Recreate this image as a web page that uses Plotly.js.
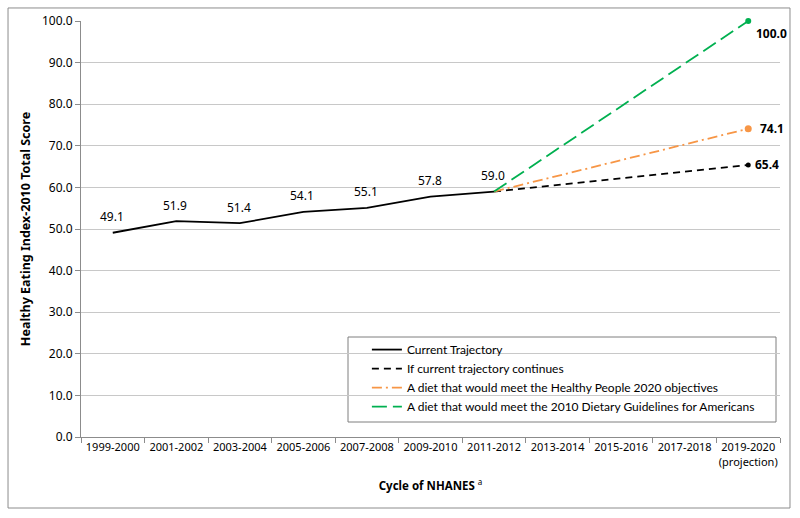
<!DOCTYPE html>
<html><head><meta charset="utf-8">
<script src="https://cdn.plot.ly/plotly-3.0.1.min.js"></script>
<style>body{margin:0;background:#fff}#c{width:800px;height:518px}</style>
</head><body><div id="c"></div>
<script>
const categories = ["1999-2000","2001-2002","2003-2004","2005-2006","2007-2008","2009-2010","2011-2012","2013-2014","2015-2016","2017-2018","2019-2020<br>(projection)"];
const currentCats = categories.slice(0,7);
const currentValues = [49.1,51.9,51.4,54.1,55.1,57.8,59.0];
const projCats = [categories[6], categories[10]];
const continueValues = [59.0,65.4];
const hp2020Values = [59.0,74.1];
const dgaValues = [59.0,100.0];
const F = "Noto Sans, sans-serif";
const FL = "Lato, sans-serif";

const traces = [
  {x: currentCats, y: currentValues, type:'scatter', mode:'lines', name:'Current Trajectory',
   line:{color:'#000', width:1.8}},
  {x: projCats, y: continueValues, type:'scatter', mode:'lines', name:'If current trajectory continues',
   line:{color:'#000', width:1.8, dash:'7px,5px'}},
  {x: projCats, y: hp2020Values, type:'scatter', mode:'lines', name:'A diet that would meet the Healthy People 2020 objectives',
   line:{color:'#f79646', width:1.8, dash:'10px,4px,2px,4px'}},
  {x: projCats, y: dgaValues, type:'scatter', mode:'lines', name:'A diet that would meet the 2010 Dietary Guidelines for Americans',
   line:{color:'#00b050', width:1.8, dash:'15px,6px'}},
  {x: [projCats[1]], y: [continueValues[1]], type:'scatter', mode:'markers', showlegend:false, marker:{size:5,color:'#000'}, cliponaxis:false},
  {x: [projCats[1]], y: [hp2020Values[1]], type:'scatter', mode:'markers', showlegend:false, marker:{size:7,color:'#f79646'}, cliponaxis:false},
  {x: [projCats[1]], y: [dgaValues[1]], type:'scatter', mode:'markers', showlegend:false, marker:{size:6,color:'#00b050'}, cliponaxis:false}
];

const annotations = currentCats.map((c,i)=>({x:c, y:currentValues[i], xref:'x', yref:'y', text:currentValues[i].toFixed(1),
  showarrow:false, yshift:16, xshift:-1, font:{family:F,size:12,color:'#000'}}));
annotations.push({x:projCats[1], y:dgaValues[1], xref:'x', yref:'y', text:'<b>'+dgaValues[1].toFixed(1)+'</b>', showarrow:false, xanchor:'left', xshift:6, yshift:-12, font:{family:F,size:12,color:'#000'}});
annotations.push({x:projCats[1], y:hp2020Values[1], xref:'x', yref:'y', text:'<b>'+hp2020Values[1].toFixed(1)+'</b>', showarrow:false, xanchor:'left', xshift:10, font:{family:F,size:12,color:'#000'}});
annotations.push({x:projCats[1], y:continueValues[1], xref:'x', yref:'y', text:'<b>'+continueValues[1].toFixed(1)+'</b>', showarrow:false, xanchor:'left', xshift:5, font:{family:F,size:12,color:'#000'}});

const layout = {
  width:800, height:518,
  margin:{l:81, r:20, t:21, b:81},
  paper_bgcolor:'#fff', plot_bgcolor:'#fff',
  font:{family:F, size:11, color:'#000'},
  showlegend:true,
  legend:{x:0.409, y:0.245, xanchor:'left', yanchor:'top', bgcolor:'rgba(0,0,0,0)', borderwidth:0,
          font:{family:FL,size:12,color:'#000'}, tracegroupgap:0},
  xaxis:{type:'category', categoryorder:'array', categoryarray:categories, range:[-0.5,10.5],
         showline:true, linecolor:'#8c8c8c', ticks:'outside', tickson:'boundaries', ticklen:5, tickcolor:'#8c8c8c',
         showgrid:false, tickfont:{family:F,size:11}, tickangle:0,
         title:{text:'<b>Cycle of NHANES </b><sup>a</sup>', font:{family:F,size:11.5}, standoff:14}},
  yaxis:{range:[0,100], dtick:10, tickformat:'.1f', showline:true, linecolor:'#8c8c8c', ticks:'outside', ticklen:5, tickcolor:'#8c8c8c',
         showgrid:true, gridcolor:'#c8c8c8', zeroline:false, tickfont:{family:F,size:12},
         title:{text:'<b>Healthy Eating Index-2010 Total Score</b>', font:{family:F,size:12.5}, standoff:8}},
  annotations: annotations,
  shapes:[
    {type:'rect', xref:'paper', yref:'paper', x0:-0.1044, x1:1.0143, y0:-0.1707, y1:1.0313,
     line:{color:'#8c8c8c', width:1}, fillcolor:'rgba(0,0,0,0)'},
    {type:'rect', xref:'paper', yref:'paper', x0:(348-81)/699, x1:(776-81)/699, y0:(437-422)/416, y1:(437-337)/416,
     line:{color:'#7f7f7f', width:1}, fillcolor:'#fff', layer:'below'}
  ]
};
Plotly.newPlot('c', traces, layout, {displayModeBar:false, staticPlot:true});
</script></body></html>
